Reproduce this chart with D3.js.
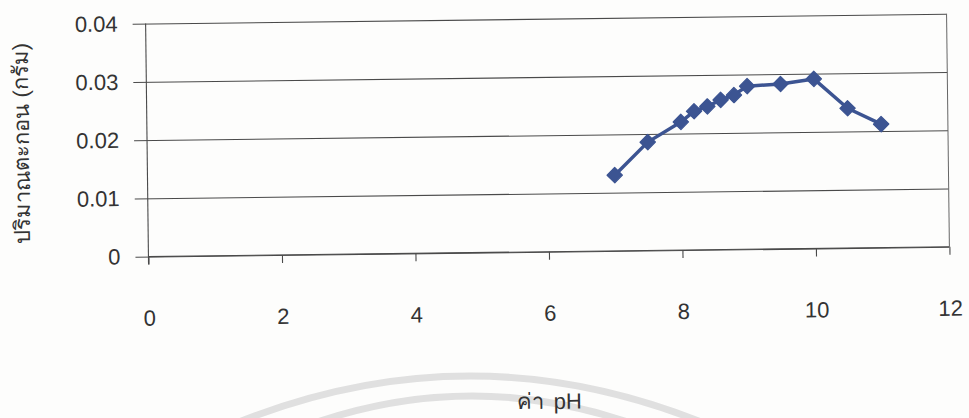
<!DOCTYPE html>
<html>
<head>
<meta charset="utf-8">
<script src="https://cdn.jsdelivr.net/npm/d3@7"></script>
<style>
  html, body { margin: 0; padding: 0; background: #fdfdfc; }
  svg { display: block; }
  text { font-family: "Liberation Sans", Arial, "Noto Sans", sans-serif; fill: #333; }
</style>
</head>
<body>
<svg id="chart" width="969" height="418"></svg>
<script>
// pH values and sediment amount (grams)
const phValues = [7, 7.5, 8, 8.2, 8.4, 8.6, 8.8, 9, 9.5, 10, 10.5, 11];
const sediment = [0.0130, 0.0186, 0.0220, 0.0238, 0.0246, 0.0257, 0.0265, 0.0280, 0.0283, 0.0291, 0.0240, 0.0212];
const xTicks = [0, 2, 4, 6, 8, 10, 12];
const yTicks = [0, 0.01, 0.02, 0.03, 0.04];
const xTitle = "ค่า pH";
const yTitle = "ปริมาณตะกอน (กรัม)";

const plot = { left: 147, right: 948, top: 18.7, bottom: 251.7 };
const lineColor = "#3c5492";
const gridColor = "#4a4a4a";

const svg = d3.select("#chart");

// faint background arcs printed on the page
const deco = svg.append("g").attr("fill", "none").attr("stroke", "#e0e0e0").attr("stroke-width", 7);
deco.append("path").attr("d", "M 215 432 Q 470 320 725 432");
deco.append("path").attr("d", "M 290 432 Q 472 360 655 432");

const g = svg.append("g").attr("transform", "rotate(-0.7, 547, 135)");

const x = d3.scaleLinear().domain([0, 12]).range([plot.left, plot.right]);
const y = d3.scaleLinear().domain([0, 0.04]).range([plot.bottom, plot.top]);

// horizontal gridlines with outward ticks on the left
const yAxis = d3.axisLeft(y)
  .tickValues(yTicks)
  .tickSize(-(plot.right - plot.left))
  .tickPadding(0)
  .tickFormat(d => d === 0 ? "0" : d3.format(".2f")(d));
const yG = g.append("g").attr("transform", `translate(${plot.left},0)`).call(yAxis);
yG.select(".domain").remove();
yG.selectAll(".tick line").attr("stroke", gridColor).attr("stroke-width", 1.1).attr("x1", -13);
yG.selectAll(".tick text")
  .attr("x", -28)
  .attr("font-size", 22)
  .attr("fill", "#333");

// plot frame: left axis and right edge
g.append("line")
  .attr("x1", plot.left).attr("x2", plot.left)
  .attr("y1", plot.top).attr("y2", plot.bottom + 8)
  .attr("stroke", gridColor).attr("stroke-width", 1.1);
g.append("line")
  .attr("x1", plot.right).attr("x2", plot.right)
  .attr("y1", plot.top).attr("y2", plot.bottom)
  .attr("stroke", "#666").attr("stroke-width", 1);

// x axis ticks and labels
const xAxis = d3.axisBottom(x)
  .tickValues(xTicks)
  .tickSize(8)
  .tickPadding(0)
  .tickFormat(d3.format("d"));
const xG = g.append("g").attr("transform", `translate(0,${plot.bottom})`).call(xAxis);
xG.select(".domain").attr("stroke", gridColor).attr("stroke-width", 1.1).attr("d", `M${plot.left},0H${plot.right}`);
xG.selectAll(".tick line").attr("stroke", gridColor).attr("stroke-width", 1.1);
xG.selectAll(".tick text")
  .attr("y", 69)
  .attr("dy", 0)
  .attr("font-size", 22)
  .attr("fill", "#333");

// data line and diamond markers
const pts = phValues.map((p, i) => [p, sediment[i]]);
g.append("path")
  .datum(pts)
  .attr("fill", "none")
  .attr("stroke", lineColor)
  .attr("stroke-width", 3.5)
  .attr("stroke-linejoin", "round")
  .attr("d", d3.line().x(d => x(d[0])).y(d => y(d[1])));

const diamond = d3.symbol().type(d3.symbolDiamond2).size(150);
g.selectAll(".marker")
  .data(pts)
  .join("path")
  .attr("class", "marker")
  .attr("fill", lineColor)
  .attr("stroke", lineColor)
  .attr("stroke-width", 1.2)
  .attr("stroke-linejoin", "round")
  .attr("transform", d => `translate(${x(d[0])},${y(d[1])})`)
  .attr("d", diamond);

// axis titles
g.append("text")
  .attr("x", 546).attr("y", 409)
  .attr("text-anchor", "middle")
  .attr("font-size", 22)
  .attr("word-spacing", 4)
  .text(xTitle);

g.append("text")
  .attr("transform", "translate(29,137) rotate(-90)")
  .attr("text-anchor", "middle")
  .attr("font-size", 22)
  .text(yTitle);
</script>
</body>
</html>
